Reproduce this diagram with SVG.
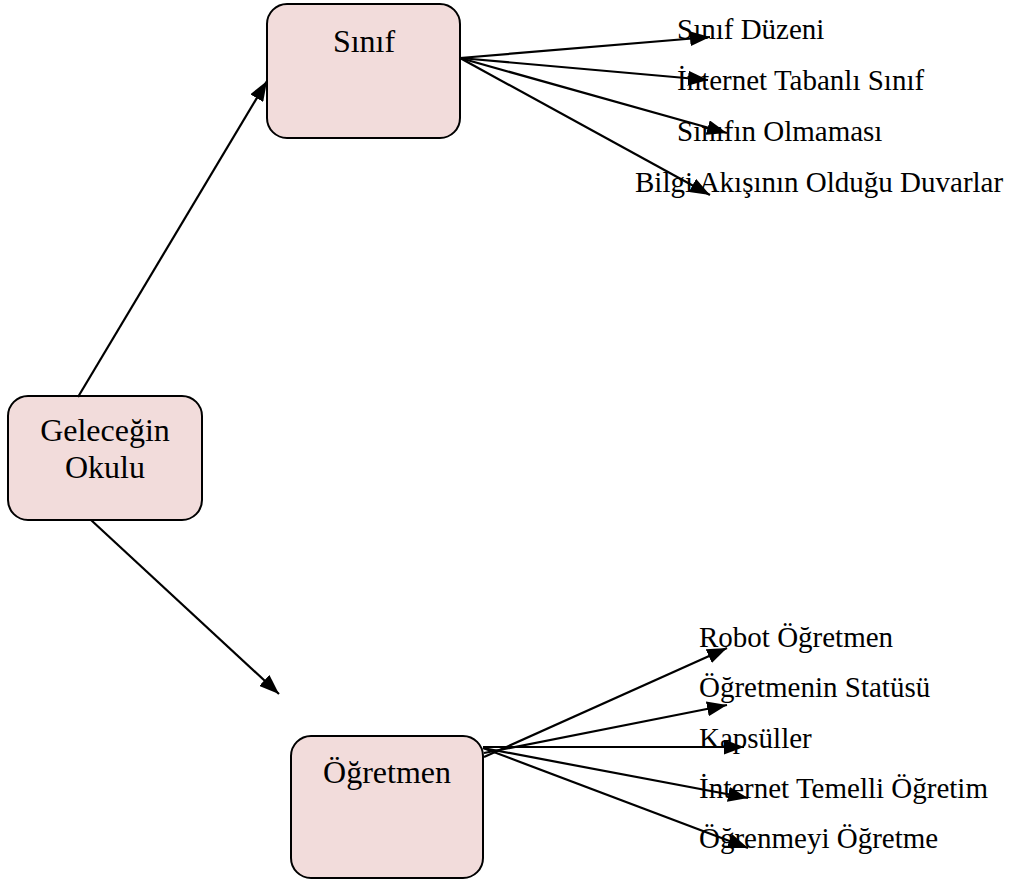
<svg xmlns="http://www.w3.org/2000/svg" width="1012" height="883" viewBox="0 0 1012 883">
  <defs>
    <marker id="arrow" viewBox="0 0 20 15" refX="20" refY="7.5" markerWidth="20" markerHeight="15" markerUnits="userSpaceOnUse" orient="auto">
      <path d="M0,0 L20,7.5 L0,15 z" fill="#000"/>
    </marker>
    <style>
      .box { fill: #f2dcdb; stroke: #000; stroke-width: 2; }
      .boxlabel { font-family: "Liberation Serif", "Times New Roman", serif; font-size: 32px; fill: #000; text-anchor: middle; }
      .leaf { font-family: "Liberation Serif", "Times New Roman", serif; font-size: 29px; fill: #000; }
      .edge { stroke: #000; stroke-width: 2.2; fill: none; marker-end: url(#arrow); }
    </style>
  </defs>

  <rect width="1012" height="883" fill="#fff"/>

  <!-- leaf labels (drawn first so arrow tips overlap them) -->
  <g id="leaves">
    <text class="leaf" x="677" y="39">Sınıf Düzeni</text>
    <text class="leaf" x="677" y="90">İnternet Tabanlı Sınıf</text>
    <text class="leaf" x="677" y="141">Sınıfın Olmaması</text>
    <text class="leaf" x="635" y="192">Bilgi Akışının Olduğu Duvarlar</text>
    <text class="leaf" x="699" y="647">Robot Öğretmen</text>
    <text class="leaf" x="699" y="697">Öğretmenin Statüsü</text>
    <text class="leaf" x="699" y="748">Kapsüller</text>
    <text class="leaf" x="699" y="798">İnternet Temelli Öğretim</text>
    <text class="leaf" x="699" y="848">Öğrenmeyi Öğretme</text>
  </g>

  <g id="node-gelecegin">
    <rect class="box" x="8" y="396" width="194" height="124" rx="20"/>
    <text class="boxlabel" x="105" y="441">Geleceğin</text>
    <text class="boxlabel" x="105" y="478">Okulu</text>
  </g>

  <g id="node-sinif">
    <rect class="box" x="267" y="4" width="193" height="134" rx="20"/>
    <text class="boxlabel" x="364" y="52">Sınıf</text>
  </g>

  <g id="node-ogretmen">
    <rect class="box" x="291" y="736" width="192" height="142" rx="20"/>
    <text class="boxlabel" x="387" y="783">Öğretmen</text>
  </g>

  <g id="connectors">
    <line class="edge" x1="78" y1="397" x2="267" y2="81"/>
    <line class="edge" x1="91" y1="520" x2="279" y2="694"/>

    <line class="edge" x1="460" y1="58" x2="710" y2="37"/>
    <line class="edge" x1="460" y1="58" x2="708" y2="80"/>
    <line class="edge" x1="460" y1="58" x2="727" y2="133"/>
    <line class="edge" x1="460" y1="58" x2="710" y2="195"/>

    <line class="edge" x1="484" y1="757" x2="727" y2="648"/>
    <line class="edge" x1="484" y1="753" x2="727" y2="705"/>
    <line class="edge" x1="483" y1="747" x2="744" y2="747"/>
    <line class="edge" x1="483" y1="748" x2="748" y2="798"/>
    <line class="edge" x1="483" y1="748" x2="748" y2="848"/>
  </g>
</svg>
